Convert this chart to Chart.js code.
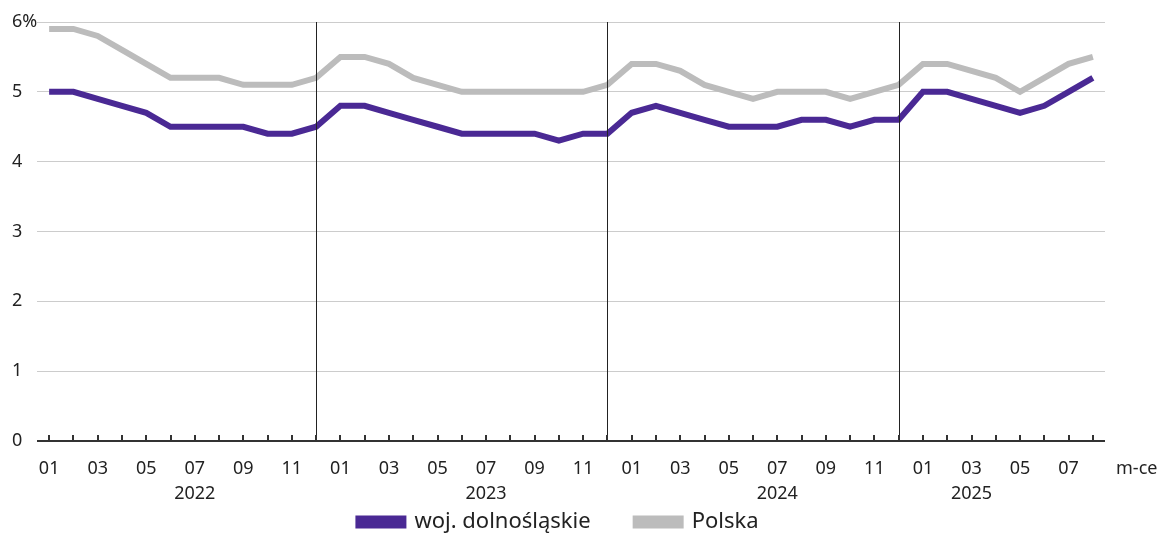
<!DOCTYPE html>
<html>
<head>
<meta charset="utf-8">
<script src="https://cdn.jsdelivr.net/npm/chart.js@4"></script>
<style>
  html, body { margin: 0; padding: 0; background: #fff; }
  #wrap { width: 1163px; height: 533px; }
</style>
</head>
<body>
<div id="wrap"><canvas id="chart"></canvas></div>
<script>
const years = ['2022', '2023', '2024', '2025'];
const monthsPerYear = [12, 12, 12, 8];
// year label sits under this month of each year
const yearLabelMonth = [7, 7, 7, 3];

const dolnoslaskie = [
  5.0, 5.0, 4.9, 4.8, 4.7, 4.5, 4.5, 4.5, 4.5, 4.4, 4.4, 4.5,
  4.8, 4.8, 4.7, 4.6, 4.5, 4.4, 4.4, 4.4, 4.4, 4.3, 4.4, 4.4,
  4.7, 4.8, 4.7, 4.6, 4.5, 4.5, 4.5, 4.6, 4.6, 4.5, 4.6, 4.6,
  5.0, 5.0, 4.9, 4.8, 4.7, 4.8, 5.0, 5.2,
];
const polska = [
  5.9, 5.9, 5.8, 5.6, 5.4, 5.2, 5.2, 5.2, 5.1, 5.1, 5.1, 5.2,
  5.5, 5.5, 5.4, 5.2, 5.1, 5.0, 5.0, 5.0, 5.0, 5.0, 5.0, 5.1,
  5.4, 5.4, 5.3, 5.1, 5.0, 4.9, 5.0, 5.0, 5.0, 4.9, 5.0, 5.1,
  5.4, 5.4, 5.3, 5.2, 5.0, 5.2, 5.4, 5.5,
];

// build category labels: [month, year-or-empty]
const labels = [];
const separators = [];
years.forEach((y, yi) => {
  for (let m = 1; m <= monthsPerYear[yi]; m++) {
    const mm = m % 2 === 1 ? String(m).padStart(2, '0') : '';
    labels.push([mm, m === yearLabelMonth[yi] ? y : '']);
    if (m === 12) separators.push(labels.length - 1);
  }
});

const FONT = '"Noto Sans", sans-serif';
const LEGEND_GAP = 45;

const axisExtras = {
  id: 'axisExtras',
  afterDatasetsDraw(chart) {
    const { ctx, chartArea, scales } = chart;
    const x = scales.x;
    ctx.save();
    // year separators
    ctx.strokeStyle = '#222';
    ctx.lineWidth = 1;
    separators.forEach(i => {
      const px = Math.round(x.getPixelForValue(i)) + 0.5;
      ctx.beginPath();
      ctx.moveTo(px, chartArea.top);
      ctx.lineTo(px, chartArea.bottom);
      ctx.stroke();
    });
    // axis line and short ticks above it
    ctx.lineWidth = 2;
    ctx.strokeStyle = '#333';
    ctx.beginPath();
    ctx.moveTo(chartArea.left, chartArea.bottom);
    ctx.lineTo(chartArea.right, chartArea.bottom);
    ctx.stroke();
    labels.forEach((_, i) => {
      const px = Math.round(x.getPixelForValue(i));
      ctx.beginPath();
      ctx.moveTo(px, chartArea.bottom - 6);
      ctx.lineTo(px, chartArea.bottom);
      ctx.stroke();
    });
    // unit label
    ctx.fillStyle = '#222';
    ctx.font = '18px ' + FONT;
    ctx.textAlign = 'left';
    ctx.textBaseline = 'middle';
    ctx.fillText('m-ce', chartArea.right + 11, chartArea.bottom + 28);
    ctx.restore();
  }
};

// keep wide spacing between legend items but a tight legend row
const tightLegend = {
  id: 'tightLegend',
  beforeInit(chart) {
    const legend = chart.legend;
    const fit = legend.fit;
    legend.fit = function () {
      fit.call(this);
      this.height = 28;
    };
    const draw = legend.draw;
    legend.draw = function () {
      const top = this.top;
      this.top = top - (LEGEND_GAP - 6);
      draw.apply(this, arguments);
      this.top = top;
    };
  }
};

new Chart(document.getElementById('chart'), {
  type: 'line',
  data: {
    labels: labels,
    datasets: [
      {
        label: 'woj. dolnośląskie',
        data: dolnoslaskie,
        borderColor: '#4a2994',
        backgroundColor: '#4a2994',
        borderWidth: 6,
        pointRadius: 0,
        tension: 0,
      },
      {
        label: 'Polska',
        data: polska,
        borderColor: '#bcbcbc',
        backgroundColor: '#bcbcbc',
        borderWidth: 6,
        pointRadius: 0,
        tension: 0,
      },
    ],
  },
  options: {
    responsive: true,
    maintainAspectRatio: false,
    animation: false,
    layout: { padding: { left: 12, right: 58, top: 22, bottom: 0 } },
    plugins: {
      legend: {
        position: 'bottom',
        labels: {
          boxWidth: 45,
          boxHeight: 7,
          padding: LEGEND_GAP,
          color: '#222',
          font: { family: FONT, size: 22 },
        },
      },
      tooltip: { enabled: false },
    },
    scales: {
      x: {
        offset: true,
        border: { display: false },
        grid: { display: false, drawTicks: false },
        afterFit(scale) { scale.height = 64; },
        ticks: {
          autoSkip: false,
          maxRotation: 0,
          padding: 15,
          color: '#222',
          font: { family: FONT, size: 18, lineHeight: 1.4 },
        },
      },
      y: {
        min: 0,
        max: 6,
        border: { display: false },
        grid: { color: '#cccccc', lineWidth: 1, drawTicks: false },
        afterFit(scale) { scale.width = 25; },
        ticks: {
          stepSize: 1,
          crossAlign: 'far',
          color: '#222',
          font: { family: FONT, size: 18 },
          callback: v => (v === 6 ? '6%' : v),
        },
      },
    },
  },
  plugins: [axisExtras, tightLegend],
});
</script>
</body>
</html>
